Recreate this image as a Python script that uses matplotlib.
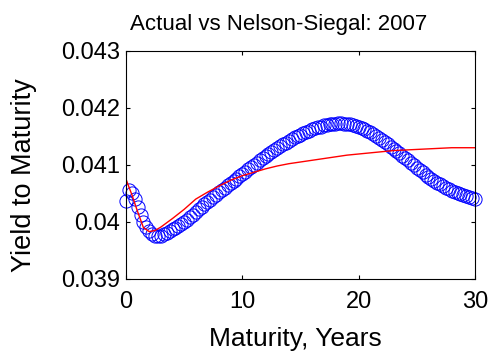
import matplotlib
matplotlib.use("Agg")
import matplotlib.pyplot as plt
from matplotlib.ticker import FuncFormatter

plt.rcParams['font.family'] = ['Liberation Sans', 'DejaVu Sans']

# actual yields, quarterly maturities 0..30 years
maturity = [i * 0.25 for i in range(121)]
actual = [
    0.04037, 0.04056, 0.04050, 0.04040, 0.04026, 0.04012, 0.04000, 0.03991,
    0.03984, 0.03979, 0.03976, 0.03975, 0.03976, 0.03978, 0.03981, 0.03984,
    0.03987, 0.03990, 0.03993, 0.03996, 0.03999, 0.04004, 0.04008, 0.04013,
    0.04017, 0.04022, 0.04026, 0.04031, 0.04035, 0.04039, 0.04043, 0.04048,
    0.04052, 0.04056, 0.04060, 0.04064, 0.04068, 0.04072, 0.04076, 0.04080,
    0.04084, 0.04088, 0.04092, 0.04096, 0.04100, 0.04104, 0.04108, 0.04112,
    0.04116, 0.04119, 0.04123, 0.04126, 0.04130, 0.04133, 0.04136, 0.04139,
    0.04142, 0.04145, 0.04148, 0.04150, 0.04153, 0.04155, 0.04158, 0.04160,
    0.04162, 0.04164, 0.04166, 0.04167, 0.04169, 0.04170, 0.04171, 0.04172,
    0.04172, 0.04173, 0.04173, 0.04172, 0.04172, 0.04171, 0.04170, 0.04168,
    0.04166, 0.04164, 0.04162, 0.04159, 0.04157, 0.04154, 0.04151, 0.04147,
    0.04144, 0.04140, 0.04136, 0.04132, 0.04128, 0.04124, 0.04120, 0.04116,
    0.04112, 0.04108, 0.04103, 0.04099, 0.04095, 0.04091, 0.04087, 0.04083,
    0.04079, 0.04075, 0.04072, 0.04069, 0.04066, 0.04063, 0.04060, 0.04058,
    0.04055, 0.04053, 0.04051, 0.04049, 0.04047, 0.04046, 0.04044, 0.04042,
    0.04041,
]

# Nelson-Siegel fitted curve
fit_maturity = [0, 0.5, 1, 1.5, 2, 2.5, 3, 4, 5, 6, 7, 8, 9, 10, 11, 12, 13,
                14, 15, 16, 17, 18, 19, 20, 21, 22, 23, 24, 25, 26, 27, 28, 29, 30]
fitted = [0.04075, 0.04048, 0.04018, 0.03990, 0.03983, 0.03985, 0.03991,
          0.04006, 0.04022, 0.04040, 0.04052, 0.04063, 0.04073, 0.04081,
          0.04087, 0.04093, 0.04098, 0.04102, 0.04105, 0.04108, 0.04111,
          0.04114, 0.04117, 0.04119, 0.04121, 0.04123, 0.04125, 0.04126,
          0.04127, 0.04128, 0.04129, 0.04130, 0.04130, 0.04130]

fig = plt.figure(figsize=(4.95, 3.56), dpi=100)
ax = fig.add_axes([0.2545, 0.2163, 0.705, 0.6413])

ax.plot(maturity, actual, 'o', mfc='none', mec='blue', ms=9.5, mew=0.7, clip_on=False)
ax.plot(fit_maturity, fitted, '-', color='red', lw=1.0)

ax.set_xlim(0, 30)
ax.set_ylim(0.039, 0.043)
ax.set_xticks([0, 10, 20, 30])
ax.set_yticks([0.039, 0.040, 0.041, 0.042, 0.043])
ax.yaxis.set_major_formatter(FuncFormatter(lambda v, p: '%g' % round(v, 4)))
ax.tick_params(direction='in', length=3, width=0.8, top=True, right=True,
               labelsize=17)
ax.tick_params(axis='x', pad=9)
ax.tick_params(axis='y', pad=4)
for s in ax.spines.values():
    s.set_linewidth(0.8)

# title and axis labels placed in figure coords
fig.text(0.5626, 0.9157, 'Actual vs Nelson-Siegal: 2007', fontsize=16,
         ha='center', va='baseline')
fig.text(0.596, 0.028, 'Maturity, Years', fontsize=19, ha='center', va='baseline')
fig.text(0.048, 0.507, 'Yield to Maturity', fontsize=19.5, rotation=90,
         ha='center', va='center')

fig.savefig('out.png', dpi=100)
